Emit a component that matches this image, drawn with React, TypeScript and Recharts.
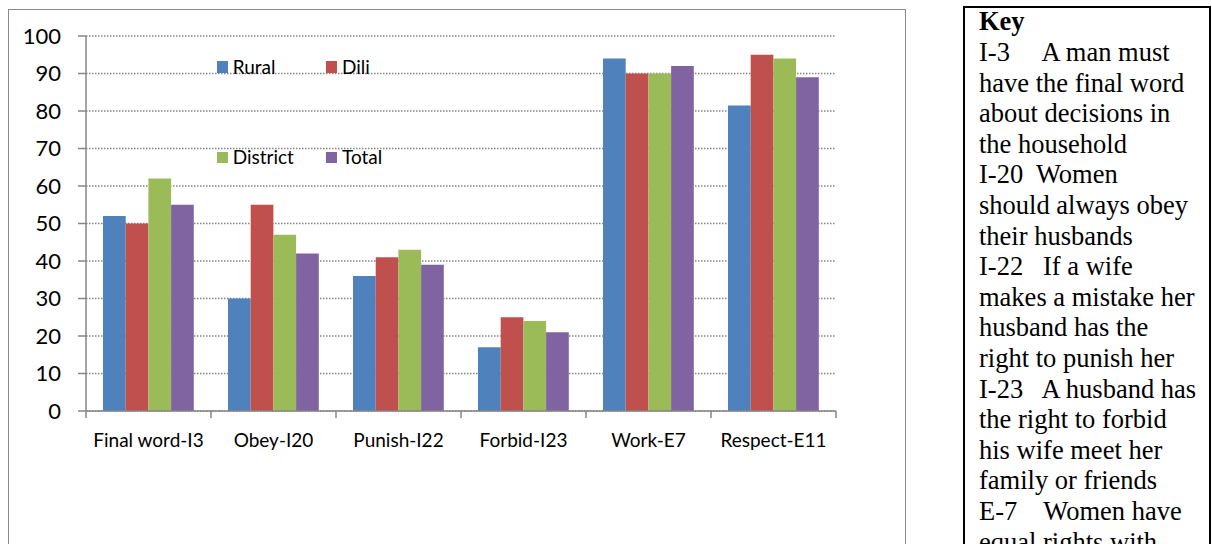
import React from 'react';
import { BarChart, Bar, XAxis, YAxis, CartesianGrid, Legend } from 'recharts';

const categories = ['Final word-I3', 'Obey-I20', 'Punish-I22', 'Forbid-I23', 'Work-E7', 'Respect-E11'];
const rural = [52, 30, 36, 17, 94, 81.5];
const dili = [50, 55, 41, 25, 90, 95];
const district = [62, 47, 43, 24, 90, 94];
const total = [55, 42, 39, 21, 92, 89];
const yTicks = [0, 10, 20, 30, 40, 50, 60, 70, 80, 90, 100];
const seriesKeys = ['rural', 'dili', 'district', 'total'];
const seriesNames = ['Rural', 'Dili', 'District', 'Total'];
const seriesColors = ['#4F81BD', '#C0504D', '#9BBB59', '#8064A2'];

const keyTitle = 'Key';
const keyLines = [
  'I-3     A man must',
  'have the final word',
  'about decisions in',
  'the household',
  'I-20  Women',
  'should always obey',
  'their husbands',
  'I-22   If a wife',
  'makes a mistake her',
  'husband has the',
  'right to punish her',
  'I-23   A husband has',
  'the right to forbid',
  'his wife meet her',
  'family or friends',
  'E-7    Women have',
  'equal rights with',
];

const data = categories.map((c, i) => ({
  name: c,
  rural: rural[i],
  dili: dili[i],
  district: district[i],
  total: total[i],
}));

const AXIS = '#868686';
const FONT = 'Lato, "Open Sans", sans-serif';

const CategoryTick = (props: any) => {
  const { x, y, payload, index, visibleTicksCount } = props;
  const half = payload && typeof payload.offset === 'number' ? payload.offset : 0;
  const isLast = index === visibleTicksCount - 1;
  return (
    <g>
      <line x1={x - half} x2={x - half} y1={y} y2={y + 7} stroke={AXIS} strokeWidth={1.5} />
      {isLast && <line x1={x + half} x2={x + half} y1={y} y2={y + 7} stroke={AXIS} strokeWidth={1.5} />}
      <text x={x} y={y + 35.5} textAnchor="middle" fill="#000" fontSize={19} fontFamily={FONT}>
        {payload.value}
      </text>
    </g>
  );
};

const LegendContent = (props: any) => {
  const payload = props.payload || [];
  const ordered = seriesNames
    .map((n) => payload.find((p: any) => p.value === n))
    .filter(Boolean);
  return (
    <div style={{ position: 'relative', width: 200, height: 130 }}>
      {ordered.map((entry: any, i: number) => {
        const col = i % 2;
        const row = Math.floor(i / 2);
        return (
          <div
            key={entry.value}
            style={{
              position: 'absolute',
              left: col * 109.3,
              top: 6 + row * 90.4,
              height: 24,
              display: 'flex',
              alignItems: 'center',
              whiteSpace: 'nowrap',
            }}
          >
            <span style={{ display: 'inline-block', width: 11, height: 11.5, background: entry.color, marginRight: 5 }} />
            <span style={{ fontFamily: FONT, fontSize: 19, color: '#000', lineHeight: '24px' }}>{entry.value}</span>
          </div>
        );
      })}
    </div>
  );
};

export default function App() {
  return (
    <div style={{ position: 'relative', width: 1212, height: 544, overflow: 'hidden', background: '#fff' }}>
      <style>{`body{margin:0;overflow:hidden;background:#fff}`}</style>
      <div
        style={{
          position: 'absolute',
          left: 8,
          top: 9,
          width: 898,
          height: 545,
          border: '1.5px solid #8a8a8a',
          borderBottom: 'none',
          boxSizing: 'border-box',
        }}
      />
      <div style={{ position: 'absolute', left: 0, top: 0 }}>
        <BarChart
          width={920}
          height={544}
          data={data}
          margin={{ top: 36, right: 84, bottom: 103, left: 26 }}
          barGap={0}
        >
          <CartesianGrid vertical={false} stroke={AXIS} strokeWidth={1.4} strokeDasharray="1.5 1.5" />
          <XAxis
            dataKey="name"
            height={30}
            interval={0}
            tickSize={0}
            tickMargin={0}
            axisLine={{ stroke: AXIS, strokeWidth: 1.5 }}
            tickLine={false}
            tick={<CategoryTick />}
          />
          <YAxis
            domain={[0, 100]}
            ticks={yTicks}
            interval={0}
            width={60}
            tickSize={8}
            tickMargin={17}
            axisLine={{ stroke: AXIS, strokeWidth: 1.5 }}
            tickLine={{ stroke: AXIS, strokeWidth: 1.5 }}
            tick={{ fill: '#000', fontSize: 22, fontFamily: FONT }}
          />
          <Legend
            layout="horizontal"
            verticalAlign="middle"
            align="center"
            content={<LegendContent />}
            wrapperStyle={{ left: 216.7, top: 49, width: 200, height: 130 }}
          />
          {seriesKeys.map((k, i) => (
            <Bar
              key={k}
              dataKey={k}
              name={seriesNames[i]}
              fill={seriesColors[i]}
              barSize={22.7}
              isAnimationActive={false}
            />
          ))}
        </BarChart>
      </div>
      <div
        style={{
          position: 'absolute',
          left: 963,
          top: 6,
          width: 248,
          height: 545,
          border: '2px solid #000',
          boxSizing: 'border-box',
          overflow: 'hidden',
        }}
      >
        <div
          style={{
            marginTop: -1.6,
            paddingLeft: 14,
            fontFamily: '"Liberation Serif", "Times New Roman", serif',
            fontSize: 26.5,
            lineHeight: '30.6px',
            color: '#000',
            whiteSpace: 'pre',
          }}
        >
          <div style={{ fontWeight: 'bold' }}>{keyTitle}</div>
          {keyLines.map((l, i) => (
            <div key={i}>{l}</div>
          ))}
        </div>
      </div>
    </div>
  );
}
